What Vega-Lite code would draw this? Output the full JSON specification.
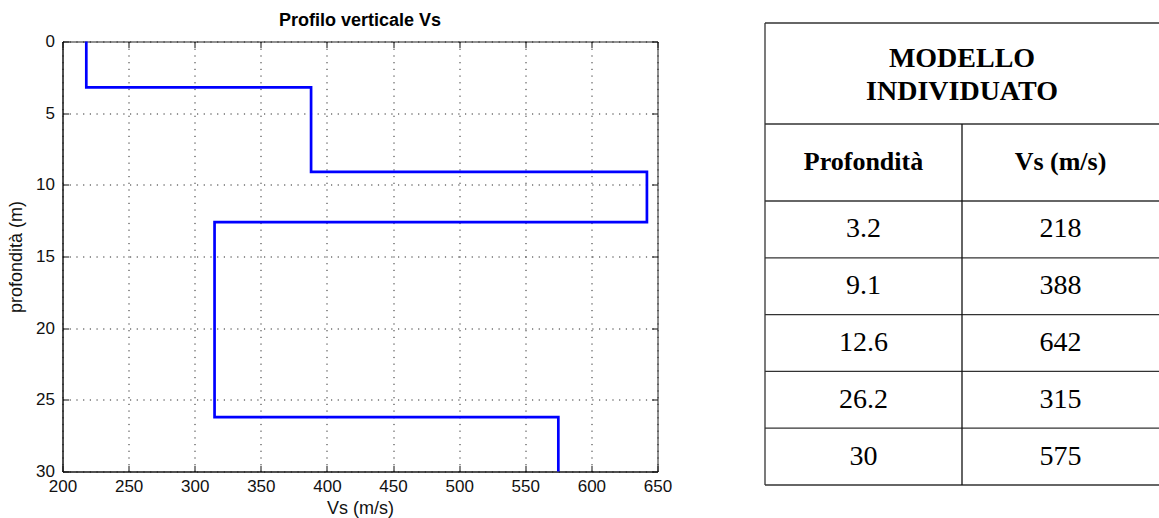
{
  "$schema": "https://vega.github.io/schema/vega-lite/v6.json",
  "background": "white",
  "autosize": {"type": "pad"},
  "padding": {"left": 6.5, "top": 11.5, "right": 0, "bottom": 0},
  "bounds": "flush",
  "spacing": 107.5,
  "datasets": {
    "profilo": [
      {"profondita": 0, "vs": 218},
      {"profondita": 3.2, "vs": 218},
      {"profondita": 9.1, "vs": 388},
      {"profondita": 12.6, "vs": 642},
      {"profondita": 26.2, "vs": 315},
      {"profondita": 30, "vs": 575}
    ]
  },
  "config": {
    "font": "Liberation Sans",
    "view": {"stroke": "#222", "strokeWidth": 1},
    "axis": {
      "labelFont": "Liberation Sans",
      "labelFontSize": 17,
      "labelColor": "#111",
      "titleFont": "Liberation Sans",
      "titleFontSize": 18,
      "titleFontWeight": "normal",
      "titleColor": "#111",
      "tickColor": "#111",
      "domainColor": "#111",
      "gridColor": "#111",
      "gridDash": [1.2, 5.5],
      "gridOpacity": 0.9,
      "gridWidth": 1,
      "tickSize": -6,
      "labelFlush": false,
      "labelOverlap": false
    }
  },
  "hconcat": [
    {
      "width": 595,
      "height": 430,
      "title": {"text": "Profilo verticale Vs", "fontSize": 18, "fontWeight": "bold", "font": "Liberation Sans", "color": "#000", "offset": 2.5, "anchor": "middle"},
      "data": {"name": "profilo"},
      "resolve": {"axis": {"x": "independent", "y": "independent"}},
      "layer": [
        {
          "mark": {"type": "line", "interpolate": "step-after", "color": "#0000ff", "strokeWidth": 2.7, "opacity": 0},
          "encoding": {
            "x": {"field": "vs", "type": "quantitative", "axis": {"orient": "top", "labels": false, "title": null, "grid": false, "domain": false, "values": [200, 250, 300, 350, 400, 450, 500, 550, 600, 650]}},
            "y": {"field": "profondita", "type": "quantitative", "axis": {"orient": "right", "labels": false, "title": null, "grid": false, "domain": false, "values": [0, 5, 10, 15, 20, 25, 30]}},
            "order": {"field": "profondita"}
          }
        },
        {
          "mark": {"type": "line", "interpolate": "step-after", "color": "#0000ff", "strokeWidth": 2.7},
          "encoding": {
            "x": {"field": "vs", "type": "quantitative", "scale": {"domain": [200, 650], "nice": false, "zero": false}, "axis": {"orient": "bottom", "title": "Vs (m/s)", "grid": true, "values": [200, 250, 300, 350, 400, 450, 500, 550, 600, 650], "labelPadding": 13, "titlePadding": 5}},
            "y": {"field": "profondita", "type": "quantitative", "scale": {"domain": [0, 30], "nice": false, "zero": false, "reverse": true}, "axis": {"orient": "left", "title": "profondità (m)", "grid": true, "values": [0, 5, 10, 15, 20, 25, 30], "labelPadding": 14, "titlePadding": 10}},
            "order": {"field": "profondita"}
          }
        }
      ]
    },
    {
      "width": 394,
      "height": 430,
      "view": {"stroke": null},
      "layer": [
        {
          "data": {"name": "profilo"},
          "transform": [
            {"filter": "datum.profondita > 0"},
            {"window": [{"op": "row_number", "as": "riga"}], "sort": [{"field": "profondita"}]}
          ],
          "mark": {"type": "rule", "color": "#333", "strokeWidth": 1.3},
          "encoding": {
            "y": {"field": "riga", "type": "quantitative", "scale": {"domain": [-2.808, 4.762], "reverse": true, "nice": false, "zero": false}, "axis": null}
          }
        },
        {
          "data": {"values": [{}]},
          "mark": {"type": "rule", "color": "#333", "strokeWidth": 1.3},
          "encoding": {"y": {"datum": -3.134, "type": "quantitative"}}
        },
        {
          "data": {"values": [{}]},
          "mark": {"type": "rule", "color": "#333", "strokeWidth": 1.3},
          "encoding": {"y": {"datum": -1.356, "type": "quantitative"}}
        },
        {
          "data": {"values": [{}]},
          "mark": {"type": "rule", "color": "#333", "strokeWidth": 1.3},
          "encoding": {"y": {"datum": 0, "type": "quantitative"}}
        },
        {
          "data": {"values": [{}]},
          "mark": {"type": "rule", "color": "#333", "strokeWidth": 1.3},
          "encoding": {
            "x": {"datum": "profondita", "type": "nominal", "bandPosition": 0, "scale": {"type": "band", "domain": ["profondita", "vs"], "paddingInner": 0, "paddingOuter": 0}, "axis": null},
            "y": {"datum": -3.134, "type": "quantitative"},
            "y2": {"datum": 5}
          }
        },
        {
          "data": {"values": [{}]},
          "mark": {"type": "rule", "color": "#111", "strokeWidth": 1.3},
          "encoding": {
            "x": {"datum": "vs", "type": "nominal", "bandPosition": 0},
            "y": {"datum": -1.356, "type": "quantitative"},
            "y2": {"datum": 5}
          }
        },
        {
          "data": {"name": "profilo"},
          "transform": [
            {"filter": "datum.profondita > 0"},
            {"window": [{"op": "row_number", "as": "riga"}], "sort": [{"field": "profondita"}]},
            {"fold": ["profondita", "vs"], "as": ["colonna", "valore"]}
          ],
          "mark": {"type": "text", "font": "Liberation Serif", "fontSize": 28, "baseline": "middle", "align": "center", "dy": -28.4, "color": "#000"},
          "encoding": {
            "x": {"field": "colonna", "type": "nominal"},
            "y": {"field": "riga", "type": "quantitative"},
            "text": {"field": "valore", "type": "nominal"}
          }
        },
        {
          "data": {"values": [{"colonna": "profondita", "intestazione": "Profondità"}, {"colonna": "vs", "intestazione": "Vs (m/s)"}]},
          "mark": {"type": "text", "font": "Liberation Serif", "fontSize": 26, "fontWeight": "bold", "baseline": "middle", "align": "center", "color": "#000"},
          "encoding": {
            "x": {"field": "colonna", "type": "nominal"},
            "y": {"datum": -0.678, "type": "quantitative"},
            "text": {"field": "intestazione", "type": "nominal"}
          }
        },
        {
          "data": {"values": [{"titolo": "MODELLO INDIVIDUATO"}]},
          "mark": {"type": "text", "font": "Liberation Serif", "fontSize": 28, "fontWeight": "bold", "baseline": "middle", "align": "center", "lineBreak": " ", "lineHeight": 33.5, "dy": -14.75, "color": "#000"},
          "encoding": {
            "y": {"datum": -2.245, "type": "quantitative"},
            "text": {"field": "titolo", "type": "nominal"}
          }
        }
      ]
    }
  ]
}
